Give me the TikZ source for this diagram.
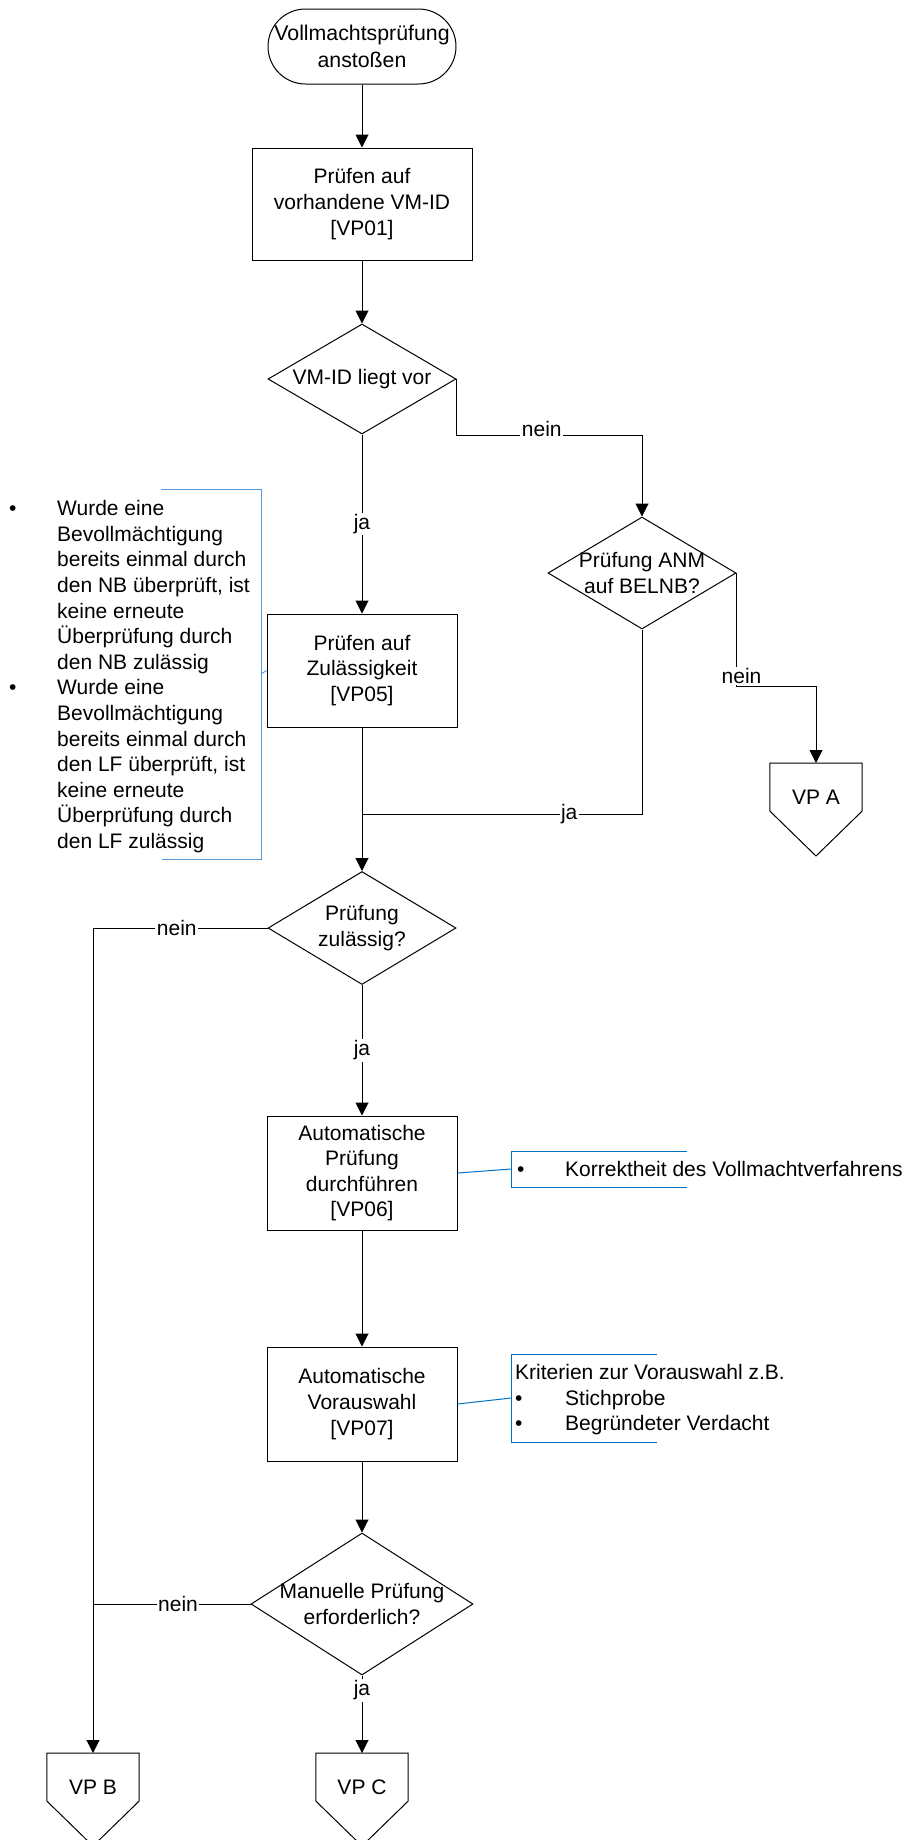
\documentclass[tikz,border=0pt]{standalone}
\usepackage{fontspec}
\setmainfont{Liberation Sans}
\usetikzlibrary{shapes.geometric,arrows.meta}
\definecolor{leftblue}{RGB}{91,155,213}
\definecolor{rightblue}{RGB}{0,112,192}
\tikzset{
  every node/.append style={font=\fontsize{21}{25.6}\selectfont},
  procbox/.style={draw, line width=1pt, minimum width=190pt, minimum height=114pt, inner sep=0pt, align=center},
  decision/.style={draw, line width=1pt, diamond, inner sep=0pt},
  term/.style={draw, line width=1pt, rounded corners=37.5pt, minimum width=188pt, minimum height=75pt, inner sep=0pt, align=center},
  offpage/.style={minimum width=92pt, minimum height=68pt, inner sep=0pt, anchor=north},
  flow/.style={line width=1pt, -{Triangle[width=13pt,length=13pt]}},
  plain/.style={line width=1pt},
  lab/.style={fill=white, inner sep=1.5pt},
  noteleft/.style={leftblue, line width=1pt},
  noteright/.style={rightblue, line width=1pt},
  notetext/.style={anchor=north west, inner sep=0pt},
}
\newcommand\drawoffpage[1]{\draw[line width=1pt] (#1.north west) -- (#1.north east) -- ([yshift=-48pt]#1.north east) -- ([yshift=-93pt]#1.north) -- ([yshift=-48pt]#1.north west) -- cycle;}
\begin{document}
\begin{tikzpicture}[x=1pt,y=-1pt]
\useasboundingbox (0,0) rectangle (910,1840);

% main flow nodes
\node[term, font=\fontsize{21.3}{27.5}\selectfont] (start) at (362,46.5) {Vollmachtsprüfung\\anstoßen};
\node[procbox, minimum width=220pt, minimum height=112pt] (vp01) at (362,204) {Prüfen auf\\vorhandene VM-ID\\{}[VP01]};
\node[decision, minimum width=188pt, minimum height=110pt, label={center:VM-ID liegt vor}] (d1) at (362,379) {};
\node[decision, minimum width=188pt, minimum height=112pt, label={[align=center]center:Prüfung ANM\\auf BELNB?}] (d2) at (642,573) {};
\node[offpage] (vpa) at (816,763) {VP A};
\drawoffpage{vpa}
\node[procbox, minimum height=113pt] (vp05) at (362,670.5) {Prüfen auf\\Zulässigkeit\\{}[VP05]};
\coordinate (j1) at (362,814);
\node[decision, minimum width=188pt, minimum height=113pt, label={[align=center]center:Prüfung\\zulässig?}] (d3) at (362,928) {};
\node[procbox] (vp06) at (362,1173) {Automatische\\Prüfung\\durchführen\\{}[VP06]};
\node[procbox] (vp07) at (362,1404) {Automatische\\Vorauswahl\\{}[VP07]};
\node[decision, minimum width=222pt, minimum height=142pt, label={[align=center]center:Manuelle Prüfung\\erforderlich?}] (d4) at (362,1604) {};
\coordinate (j2) at (93,1604);
\node[offpage] (vpb) at (93,1753) {VP B};
\drawoffpage{vpb}
\node[offpage] (vpc) at (362,1753) {VP C};
\drawoffpage{vpc}

% connectors
\draw[flow] (start.south) -- (vp01.north);
\draw[flow] (vp01.south) -- (d1.north);
\draw[flow] (d1.south) -- node[lab]{ja} (vp05.north);
\draw[flow] (d1.east) -- ++(0,56) -| node[lab, pos=0.23, yshift=6pt]{nein} (d2.north);
\draw[flow] (d2.east) -- ++(0,113) node[lab, xshift=5pt, yshift=10pt]{nein} -| (vpa.north);
\draw[plain] (d2.south) |- node[lab, pos=0.63]{ja} (j1);
\draw[flow] (vp05.south) -- (d3.north);
\draw[flow] (d3.west) -| node[lab, pos=0.26]{nein} (vpb.north);
\draw[flow] (d3.south) -- node[lab]{ja} (vp06.north);
\draw[flow] (vp06.south) -- (vp07.north);
\draw[flow] (vp07.south) -- (d4.north);
\draw[plain] (d4.west) -- node[lab, pos=0.46]{nein} (j2);
\draw[flow] (d4.south) -- node[lab, pos=0.19]{ja} (vpc.north);

% left annotation
\draw[noteleft] (161,489) -- (261,489) -- (261,859) -- (162,859);
\coordinate (n0) at (261,674);
\draw[noteleft] (vp05.west) -- (n0);
\node[notetext] (note0) at (9,497.6) {\begin{tabular}{@{}p{48pt}@{}l@{}}
\textbullet & Wurde eine\\
 & Bevollmächtigung\\
 & bereits einmal durch\\
 & den NB überprüft, ist\\
 & keine erneute\\
 & Überprüfung durch\\
 & den NB zulässig\\
\textbullet & Wurde eine\\
 & Bevollmächtigung\\
 & bereits einmal durch\\
 & den LF überprüft, ist\\
 & keine erneute\\
 & Überprüfung durch\\
 & den LF zulässig
\end{tabular}};

% right annotation 1
\draw[noteright] (687,1151) -- (511,1151) -- (511,1187) -- (687,1187);
\coordinate (n1) at (511,1169);
\draw[noteright] (vp06.east) -- (n1);
\node[notetext] (note1) at (517,1158.6) {\begin{tabular}{@{}p{48pt}@{}l@{}}
\textbullet & Korrektheit des Vollmachtverfahrens
\end{tabular}};

% right annotation 2
\draw[noteright] (657,1354) -- (511,1354) -- (511,1442) -- (657,1442);
\coordinate (n2) at (511,1398);
\draw[noteright] (vp07.east) -- (n2);
\node[notetext] (note2) at (515,1361.6) {\begin{tabular}{@{}p{50pt}@{}l@{}}
\multicolumn{2}{@{}l@{}}{Kriterien zur Vorauswahl z.B.}\\
\textbullet & Stichprobe\\
\textbullet & Begründeter Verdacht
\end{tabular}};
\end{tikzpicture}
\end{document}
